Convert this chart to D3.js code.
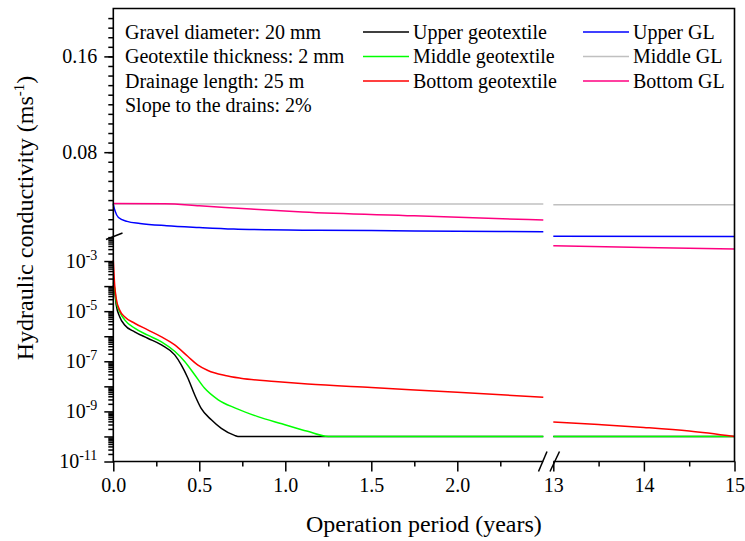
<!DOCTYPE html>
<html lang="en">
  <head>
    <meta charset="utf-8">
    <title>Hydraulic conductivity</title>
    <script type="text/javascript" src="https://d3js.org/d3.v7.min.js"></script>
    <style>
      body { margin: 0; background: #fff; }
    </style>
  </head>
  <body>
    <script type="text/javascript">
    var w = 745;
    var h = 541;
    var font = "'Liberation Serif','Times New Roman',serif";

    // operation period (years) and conductivity (m/s) per layer
    var upperGeoT = [0, 0.008, 0.017, 0.037, 0.066, 0.124, 0.2, 0.28, 0.357, 0.395, 0.434, 0.473, 0.51, 0.57, 0.628, 0.705, 0.725, 1.5, 2.5, 13, 15];
    var upperGeoK = [1.1e-4, 6.0e-5, 1.8e-5, 6.0e-6, 2.8e-6, 1.5e-6, 8.3e-7, 4.5e-7, 1.8e-7, 7.2e-8, 2.1e-8, 4.6e-9, 1.35e-9, 4.6e-10, 2.1e-10, 1.1e-10, 1e-10, 1e-10, 1e-10, 1e-10, 1e-10];

    var middleGeoT = [0, 0.008, 0.017, 0.037, 0.066, 0.124, 0.2, 0.28, 0.357, 0.415, 0.473, 0.53, 0.61, 0.71, 0.84, 0.98, 1.13, 1.25, 2.0, 2.5, 13, 15];
    var middleGeoK = [1.4e-4, 8.1e-5, 2.4e-5, 9.5e-6, 4.5e-6, 2.1e-6, 1.1e-6, 6.0e-7, 2.5e-7, 9.8e-8, 2.9e-8, 8.5e-9, 2.9e-9, 1.35e-9, 6.2e-10, 3.2e-10, 1.6e-10, 1e-10, 1e-10, 1e-10, 1e-10, 1e-10];

    var bottomGeoT = [0, 0.008, 0.017, 0.037, 0.066, 0.124, 0.2, 0.28, 0.357, 0.434, 0.49, 0.55, 0.65, 0.74, 0.94, 1.13, 1.5, 2.0, 2.5, 13, 13.5, 14, 14.5, 15];
    var bottomGeoK = [1.1e-3, 1.1e-4, 3.2e-5, 1.1e-5, 6.0e-6, 3.3e-6, 1.8e-6, 9.5e-7, 4.5e-7, 1.55e-7, 7.2e-8, 4.3e-8, 2.7e-8, 2.1e-8, 1.55e-8, 1.23e-8, 8.9e-9, 5.8e-9, 3.7e-9, 3.8e-10, 3.0e-10, 2.3e-10, 1.65e-10, 1.0e-10];

    var upperGLT = [0, 0.004, 0.01, 0.03, 0.08, 0.155, 0.31, 0.5, 0.7, 0.9, 1.1, 1.5, 2.0, 2.5, 13, 15];
    var upperGLK = [0.0370, 0.034, 0.031, 0.0255, 0.0222, 0.0205, 0.0186, 0.0171, 0.0158, 0.0152, 0.0149, 0.0145, 0.0140, 0.0135, 0.0098, 0.0096];

    var middleGLT = [0, 2.5, 13, 15];
    var middleGLK = [0.0367, 0.0367, 0.0362, 0.0362];

    var bottomGLT = [0, 0.3, 0.5, 0.8, 1.1, 1.75, 2.5, 13, 14, 15];
    var bottomGLK = [0.0372, 0.0370, 0.0353, 0.0325, 0.0300, 0.0269, 0.0233, 0.0041, 0.0035, 0.0030];

    var seriesNames = ["Upper geotextile", "Middle geotextile", "Bottom geotextile", "Upper GL", "Middle GL", "Bottom GL"];
    var seriesColors = ["#000000", "#00ff00", "#ff0000", "#0000ff", "#c0c0c0", "#ff0080"];
    var seriesT = [upperGeoT, middleGeoT, bottomGeoT, upperGLT, middleGLT, bottomGLT];
    var seriesK = [upperGeoK, middleGeoK, bottomGeoK, upperGLK, middleGLK, bottomGLK];

    var notes = ["Gravel diameter: 20 mm", "Geotextile thickness: 2 mm", "Drainage length: 25 m", "Slope to the drains: 2%"];

    var xMajorLeft = [0, 0.5, 1.0, 1.5, 2.0];
    var xMinorLeft = [0.25, 0.75, 1.25, 1.75, 2.25];
    var xMajorRight = [13, 14, 15];
    var xMinorRight = [13.5, 14.5];
    var yLinMajor = [0.08, 0.16];
    var yLogMajor = [1e-11, 1e-10, 1e-9, 1e-8, 1e-7, 1e-6, 1e-5, 1e-4, 1e-3];

    // broken axes: two x pieces, linear top / log bottom for y
    var pL = 113.3, pR = 734.5, pT = 8.5, pB = 461.5, yBreak = 236;
    var xLeft = d3.scaleLinear().domain([0, 2.5]).range([pL, 543.3]);
    var xRight = d3.scaleLinear().domain([13, 15]).range([553.3, pR]);
    var yLin = d3.scaleLinear().domain([0.01, 0.2]).range([yBreak, pT]);
    var yLog = d3.scaleLog().domain([1e-11, 1e-2]).range([pB, yBreak]);

    var yPos = function(v) { return v >= 0.01 ? yLin(v) : yLog(v); };

    var svg = d3.select("body").append("svg").attr("width", w).attr("height", h)
      .style("font-family", font);

    // data lines
    var line = d3.line().curve(d3.curveMonotoneX);
    seriesT.forEach(function(ts, i) {
      var ks = seriesK[i];
      var pl = [], pr = [];
      ts.forEach(function(t, j) {
        if (t <= 2.5) pl.push([xLeft(t), yPos(ks[j])]);
        else pr.push([xRight(t), yPos(ks[j])]);
      });
      [pl, pr].forEach(function(pts) {
        svg.append("path")
          .attr("d", line(pts))
          .attr("fill", "none")
          .attr("stroke", seriesColors[i])
          .attr("stroke-width", 1.5);
      });
    });

    // axes
    var styleAxis = function(g) {
      g.select(".domain").remove();
      g.selectAll(".tick line").attr("stroke", "#000").attr("stroke-width", 1.5);
      g.selectAll(".tick text").attr("fill", "#000").style("font-size", "20px").style("font-family", font);
    };

    svg.append("g").attr("transform", "translate(0," + pB + ")")
      .call(d3.axisBottom(xLeft).tickValues(xMajorLeft).tickFormat(d3.format(".1f")).tickSize(10).tickPadding(6))
      .call(styleAxis);
    svg.append("g").attr("transform", "translate(0," + pB + ")")
      .call(d3.axisBottom(xLeft).tickValues(xMinorLeft).tickFormat("").tickSize(5))
      .call(styleAxis);
    svg.append("g").attr("transform", "translate(0," + pB + ")")
      .call(d3.axisBottom(xRight).tickValues(xMajorRight).tickFormat(d3.format("d")).tickSize(10).tickPadding(6))
      .call(styleAxis);
    svg.append("g").attr("transform", "translate(0," + pB + ")")
      .call(d3.axisBottom(xRight).tickValues(xMinorRight).tickFormat("").tickSize(5))
      .call(styleAxis);

    svg.append("g").attr("transform", "translate(" + pL + ",0)")
      .call(d3.axisLeft(yLin).tickValues(yLinMajor).tickFormat(d3.format(".2f")).tickSize(9).tickPadding(7))
      .call(styleAxis);
    svg.append("g").attr("transform", "translate(" + pL + ",0)")
      .call(d3.axisLeft(yLin).tickValues(d3.range(16, 200, 8).map(function(d) { return d / 1000; })).tickFormat("").tickSize(5))
      .call(styleAxis);

    var logMinor = [];
    yLogMajor.forEach(function(d) {
      for (var k = 2; k <= 9; k++) logMinor.push(d * k);
    });
    svg.append("g").attr("transform", "translate(" + pL + ",0)")
      .call(d3.axisLeft(yLog).tickValues(yLogMajor).tickSize(9).tickPadding(7)
        .tickFormat(function(d) { return Math.round(Math.log10(d)); }))
      .call(styleAxis)
      .call(function(g) {
        g.selectAll(".tick text").each(function() {
          var t = d3.select(this);
          var e = +t.text();
          t.text("");
          if (Math.abs(e) % 2 == 0) return;
          t.append("tspan").text("10");
          t.append("tspan").attr("dy", -8).style("font-size", "14px").text(String(e));
        });
      });
    svg.append("g").attr("transform", "translate(" + pL + ",0)")
      .call(d3.axisLeft(yLog).tickValues(logMinor).tickFormat("").tickSize(5))
      .call(styleAxis);

    // frame, with gap at the x break
    var frame = [[543.3, pB], [pL, pB], [pL, pT], [pR, pT], [pR, pB], [553.3, pB]];
    svg.append("path")
      .attr("d", d3.line()(frame))
      .attr("fill", "none").attr("stroke", "#000").attr("stroke-width", 1.6);

    // break marks
    var breaks = [
      [[538.5, 471.5], [547, 451.5]],
      [[550, 471.5], [559.5, 451.5]],
      [[106, 239.5], [122.5, 233]]
    ];
    breaks.forEach(function(b) {
      svg.append("path").attr("d", d3.line()(b))
        .attr("stroke", "#000").attr("stroke-width", 1.5).attr("fill", "none");
    });

    // notes
    svg.selectAll("text.note")
      .data(notes)
      .enter()
      .append("text")
      .attr("class", "note")
      .attr("x", 125)
      .attr("y", function(d, i) { return 38.5 + i * 24.5; })
      .style("font-size", "20px")
      .text(function(d) { return d; });

    // legend
    var lg = svg.selectAll("g.legend")
      .data(seriesNames)
      .enter()
      .append("g")
      .attr("class", "legend")
      .attr("transform", function(d, i) {
        var col = Math.floor(i / 3), row = i % 3;
        return "translate(" + (col == 0 ? 363 : 583) + "," + (38.5 + row * 24.5) + ")";
      });
    lg.append("line")
      .attr("x1", 0).attr("x2", 46).attr("y1", -6.5).attr("y2", -6.5)
      .attr("stroke", function(d, i) { return seriesColors[i]; })
      .attr("stroke-width", 1.5);
    lg.append("text")
      .attr("x", 50)
      .style("font-size", "20px")
      .text(function(d) { return d; });

    // axis titles
    svg.append("text")
      .attr("x", (pL + pR) / 2)
      .attr("y", 531.5)
      .attr("text-anchor", "middle")
      .style("font-size", "24px")
      .text("Operation period (years)");

    var yt = svg.append("text")
      .attr("transform", "translate(33,218) rotate(-90)")
      .attr("text-anchor", "middle")
      .style("font-size", "24px");
    yt.append("tspan").text("Hydraulic conductivity (ms");
    yt.append("tspan").attr("dy", -9).style("font-size", "15px").text("-1");
    yt.append("tspan").attr("dy", 9).text(")");
    </script>
  </body>
</html>
